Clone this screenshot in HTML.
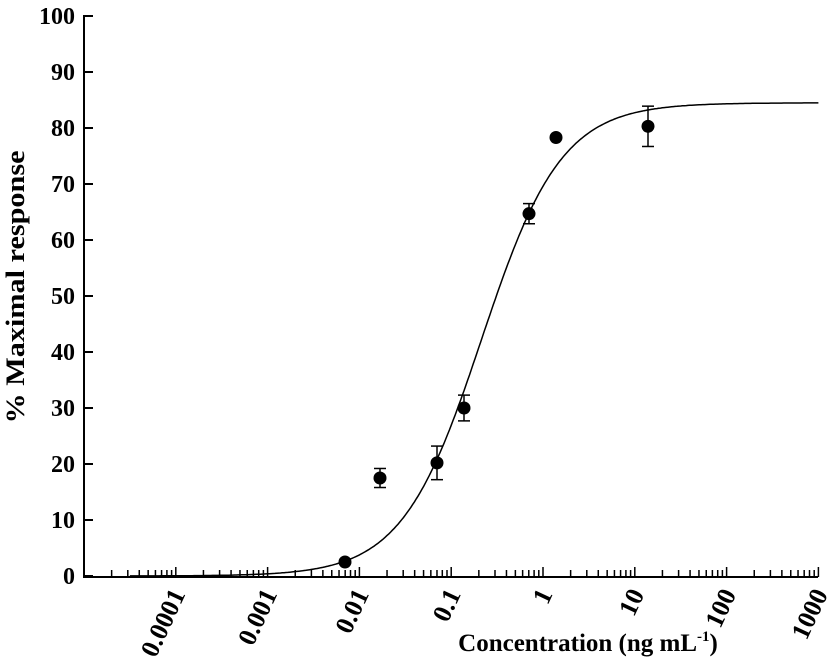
<!DOCTYPE html>
<html><head><meta charset="utf-8"><style>
html,body{margin:0;padding:0;background:#fff;}
svg{display:block;font-family:"Liberation Serif",serif;}
</style></head><body>
<svg id="s" width="827" height="663" viewBox="0 0 827 663" xmlns="http://www.w3.org/2000/svg">
<g stroke="#000" stroke-width="2" fill="none">
<line x1="84" y1="15" x2="84" y2="577"/>
<line x1="83" y1="577" x2="818" y2="577"/>
</g>
<g id="yt" stroke="#000" stroke-width="2"></g>
<g id="yl" font-size="24" font-weight="bold" text-anchor="end"></g>
<g id="xt" stroke="#000" stroke-width="1.5"></g>
<g id="xl" font-size="26" font-weight="bold" text-anchor="end"></g>
<path id="curve" fill="none" stroke="#000" stroke-width="1.5"/>
<g id="pts"></g>
<text x="24" y="287" font-size="26" font-weight="bold" text-anchor="middle" textLength="273" lengthAdjust="spacingAndGlyphs" transform="rotate(-90 24 287)">% Maximal response</text>
<text x="588" y="651" font-size="25" font-weight="bold" text-anchor="middle">Concentration (ng mL<tspan font-size="15" dy="-10">-1</tspan><tspan dy="10">)</tspan></text>
</svg>
<script>
var NS="http://www.w3.org/2000/svg";
function el(p,t,a,txt){var e=document.createElementNS(NS,t);for(var k in a)e.setAttribute(k,a[k]);if(txt)e.textContent=txt;document.getElementById(p).appendChild(e);return e;}
function Y(v){return 576-5.6*v;}
function X(c){return 84+91.8*(Math.log10(c)+5);}
for(var v=0;v<=100;v+=10){var y=Y(v);el("yt","line",{x1:84,y1:y,x2:93,y2:y});el("yl","text",{x:75,y:y+8},String(v));}
for(var d=-5;d<3;d++){for(var m=2;m<=10;m++){var x=X(m*Math.pow(10,d));var h=(m==10)?10:7;el("xt","line",{x1:x,y1:577,x2:x,y2:577-h});}}
var labs=["0.0001","0.001","0.01","0.1","1","10","100","1000"];
for(var i=0;i<8;i++){var x=X(Math.pow(10,i-4))+10,y=594;el("xl","text",{x:x,y:y,transform:"rotate(-65 "+x+" "+y+")"},labs[i]);}
var dstr="";for(var lx=-4.5;lx<=3;lx+=0.02){var c=Math.pow(10,lx);var v=84.5/(1+Math.pow(0.214/c,1.0));dstr+=(dstr?"L":"M")+X(c).toFixed(1)+" "+Y(v).toFixed(1);}
document.getElementById("curve").setAttribute("d",dstr);
var P=[[345,2.5,0],[380,17.5,1.7],[437,20.2,3],[464,30,2.3],[529,64.7,1.8],[556,78.3,0],[648,80.3,3.6]];
P.forEach(function(p){var y=Y(p[1]);if(p[2]){var a=Y(p[1]+p[2]),b=Y(p[1]-p[2]);el("pts","line",{x1:p[0],y1:a,x2:p[0],y2:b,stroke:"#000","stroke-width":1.5});el("pts","line",{x1:p[0]-6,y1:a,x2:p[0]+6,y2:a,stroke:"#000","stroke-width":1.5});el("pts","line",{x1:p[0]-6,y1:b,x2:p[0]+6,y2:b,stroke:"#000","stroke-width":1.5});}el("pts","circle",{cx:p[0],cy:y,r:6.5,fill:"#000"});});
</script>
</body></html>
